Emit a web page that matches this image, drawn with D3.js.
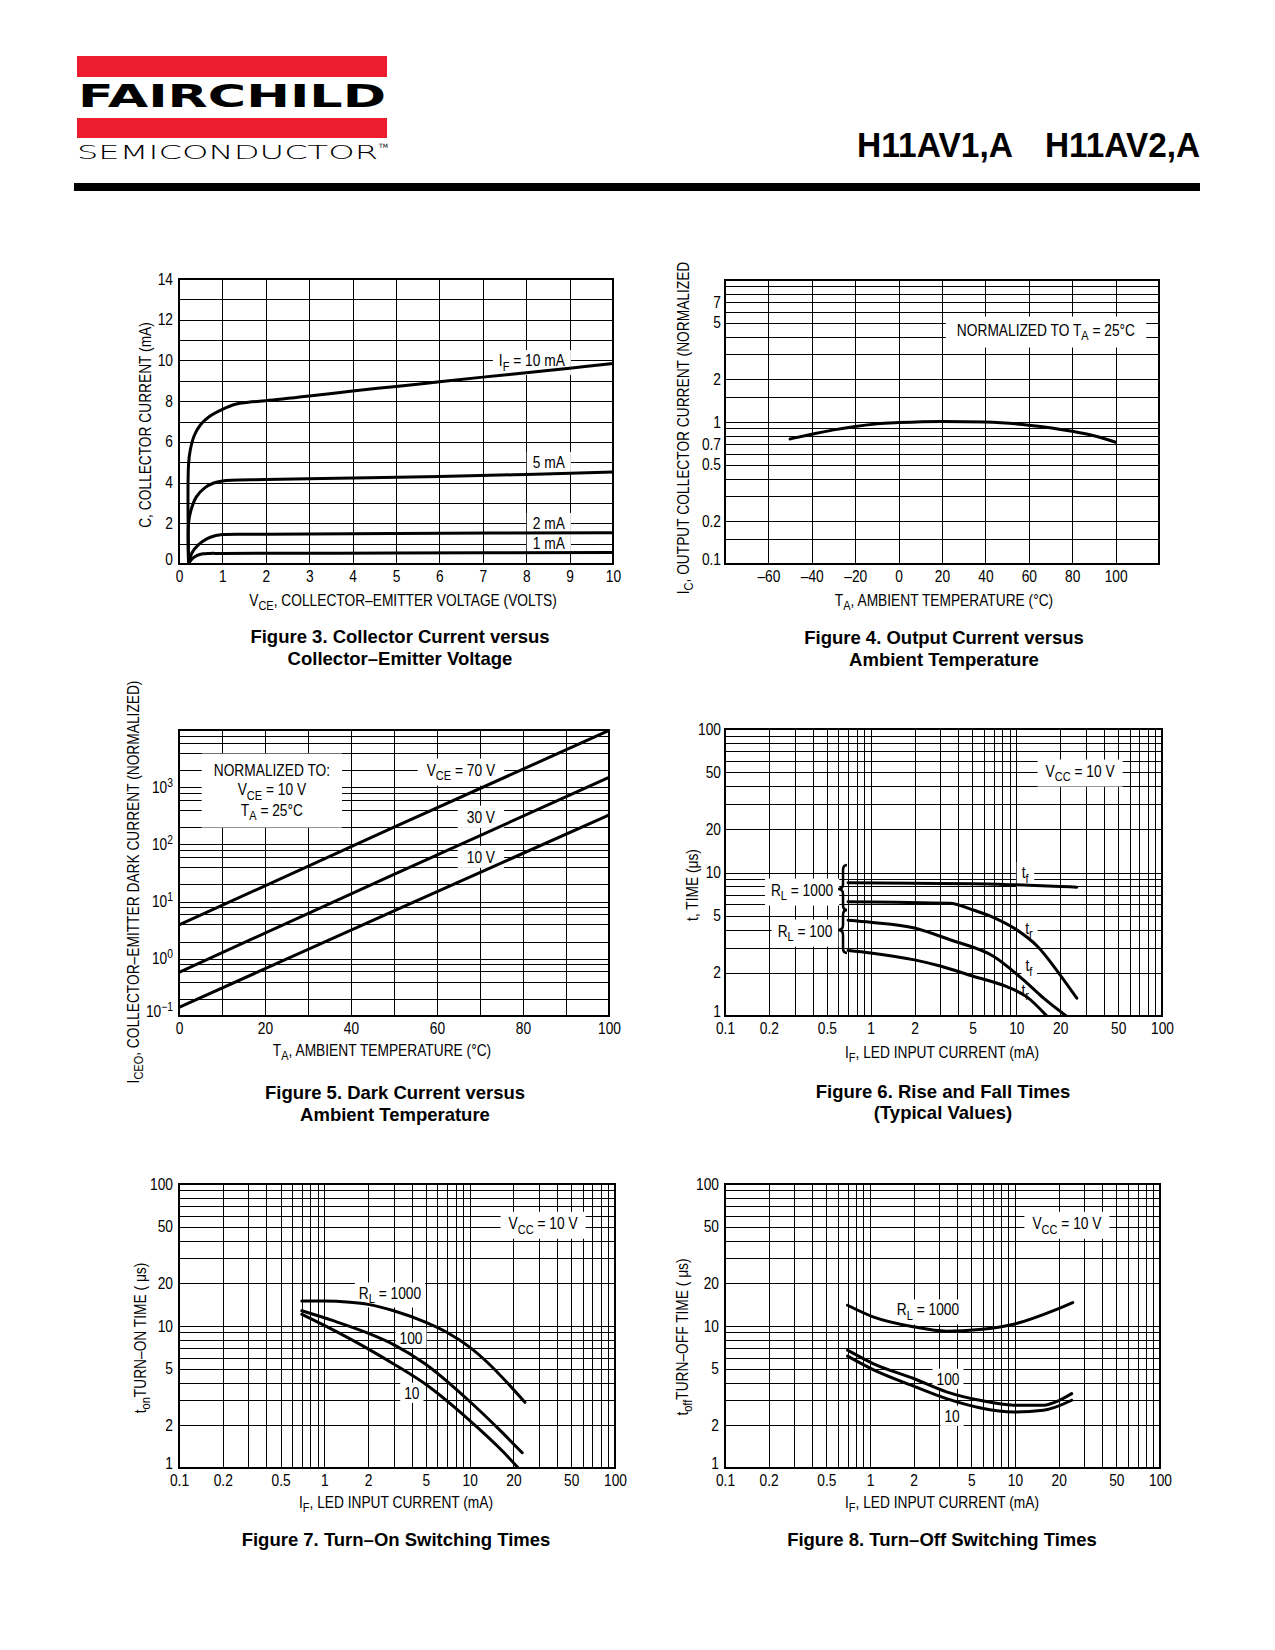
<!DOCTYPE html>
<html><head><meta charset="utf-8">
<script src="https://cdn.jsdelivr.net/npm/d3@7"></script>
<style>
body{margin:0;background:#fff}
svg{display:block}
text{font-family:'Liberation Sans',Arial,Helvetica,sans-serif;fill:#000;white-space:pre}
</style></head><body>
<svg id="page" width="1275" height="1650"></svg>
<script>
// ---------------- DATA ----------------
// Figure 3: Collector current vs VCE
const fig3XTicks = [0,1,2,3,4,5,6,7,8,9,10];
const fig3YTicks = [0,2,4,6,8,10,12,14];
const fig3YGrid = [0,1,2,3,4,5,6,7,8,9,10,11,12,13,14];
const fig3IF10 = [[0.22,0],[0.22,4.9],[0.26,5.6],[0.35,6.3],[0.5,6.85],[0.7,7.25],[1,7.6],[1.3,7.85],[1.6,7.95],[2,8.02],[3,8.25],[4,8.5],[5,8.72],[6,8.95],[7,9.18],[8,9.4],[9,9.62],[10,9.85]];
const fig3IF5 = [[0.22,0],[0.22,2.0],[0.27,2.6],[0.4,3.3],[0.6,3.75],[0.8,3.98],[1,4.08],[1.2,4.12],[2,4.15],[4,4.22],[6,4.3],[8,4.4],[10,4.52]];
const fig3IF2 = [[0.22,0],[0.3,0.55],[0.45,0.95],[0.65,1.25],[0.85,1.4],[1,1.45],[2,1.46],[5,1.5],[10,1.54]];
const fig3IF1 = [[0.22,0],[0.3,0.25],[0.42,0.42],[0.55,0.5],[0.7,0.52],[1,0.52],[5,0.54],[10,0.57]];
const fig3LabelY = [10,5,2,1];

// Figure 4: Output current vs ambient temperature
const fig4XTicks = [-60,-40,-20,0,20,40,60,80,100];
const fig4YTicks = [0.1,0.2,0.5,0.7,1,2,5,7];
const fig4YGrid = [0.1,0.15,0.2,0.3,0.4,0.5,0.6,0.7,0.8,0.9,1,1.5,2,3,4,5,6,7,8,9,10];
const fig4TA = [-50,-40,-30,-20,-10,0,20,40,60,80,90,100];
const fig4IC = [0.76,0.82,0.88,0.93,0.97,0.99,1.01,1.0,0.95,0.86,0.80,0.72];

// Figure 5: Dark current vs ambient temperature
const fig5XTicks = [0,20,40,60,80,100];
const fig5XGrid = [0,10,20,30,40,50,60,70,80,90,100];
const fig5YTicks = [0.1,1,10,100,1000];
const fig5YExp = ["\u22121","0","1","2","3"];
const fig5YGridSteps = [1,2,4,6,8];
const fig5TA = [0,50,100];
const fig5VCE70 = [3.9,200,9800];
const fig5VCE30 = [0.58,30,1480];
const fig5VCE10 = [0.142,6.9,327];

// Figure 6: Rise and fall times
const logXTicks = [0.1,0.2,0.5,1,2,5,10,20,50,100];
const logYTicks = [1,2,5,10,20,50,100];
const logGridSteps = [1,2,3,4,5,6,7,8,9];
const fig6TfHigh = [[0.7,8.5],[2,8.4],[5,8.35],[10,8.2],[20,8.0],[26,7.9]];
const fig6TrHigh = [[0.7,6.25],[1.5,6.2],[3.5,6.1],[5,5.5],[7,4.85],[10,4.0],[14,3.05],[19.5,2.0],[26,1.33]];
const fig6TfLow = [[0.7,4.65],[1,4.5],[2,4.1],[3.5,3.4],[7,2.6],[11.8,1.7],[15.4,1.33],[22,1.0]];
const fig6TrLow = [[0.7,2.86],[1,2.75],[2,2.46],[3,2.23],[5,1.9],[8.6,1.6],[11.8,1.36],[16.2,1.0]];
const fig6Braces = [[11.3,7.67,5.48],[5.48,3.97,2.75]];

// Figure 7: Turn-on switching times
const fig7RL1000 = [[0.7,15.0],[1,15.0],[1.5,14.7],[2,14.2],[3,12.8],[5,10.6],[7,9.0],[10,7.1],[13.1,5.6],[18.5,3.9],[24,2.9]];
const fig7RL100 = [[0.7,12.8],[1.15,10.9],[2,8.9],[3,7.4],[4.9,5.44],[9.8,3.0],[16.2,1.84],[23,1.28]];
const fig7RL10 = [[0.7,12.1],[1,10.1],[2,6.9],[3,5.4],[4.9,3.93],[9.8,2.2],[17,1.3],[21.6,1.0]];

// Figure 8: Turn-off switching times
const fig8RL1000 = [[0.7,14.0],[1.05,11.6],[2,9.87],[3.37,9.2],[5.7,9.45],[9.8,10.3],[19.4,13.1],[25,14.6]];
const fig8RL100 = [[0.7,6.76],[1.05,5.44],[2,4.27],[3.37,3.44],[5.7,3.0],[9.8,2.77],[15.7,2.77],[20.3,3.0],[24.6,3.34]];
const fig8RL10 = [[0.7,6.13],[1.05,4.93],[2,3.77],[3.37,3.08],[5.7,2.66],[9.8,2.48],[15.7,2.55],[24.6,3.0]];

// ---------------- HELPERS ----------------
const svg = d3.select("#page");
const SX = 0.86, FS = 16;
function logGrid(lo, hi, steps){ const out=[]; for(let d=lo; d<hi*0.999; d*=10){ steps.forEach(k=>out.push(+(d*k).toPrecision(3))); } out.push(hi); return out; }

function addText(parent, x, y, parts, o={}){
  const fs = o.size||FS, sx = o.bold?1:SX;
  const g = parent.append("g").attr("transform",`translate(${x},${y})${o.rotate?" rotate(-90)":""} scale(${sx},1)`);
  const t = g.append("text").attr("x",0).attr("y",fs*0.35).attr("font-size",fs)
    .attr("text-anchor",o.anchor||"middle");
  if(o.bold) t.attr("font-weight","bold");
  let shift=0;
  parts.forEach(p=>{
    let type='n', s=p;
    if(p[0]==='_'){type='sub'; s=p.slice(1);} else if(p[0]==='^'){type='sup'; s=p.slice(1);}
    const target = type==='sub'? fs*0.3 : type==='sup'? -fs*0.42 : 0;
    const ts = t.append("tspan").attr("dy", target-shift).text(s);
    if(type!=='n') ts.attr("font-size", fs*0.8);
    shift=target;
  });
  return t;
}
const lineCR = (x,y)=>d3.line().x(d=>x(d[0])).y(d=>y(d[1])).curve(d3.curveCatmullRom.alpha(0.5));
const lineMono = (x,y)=>d3.line().x(d=>x(d[0])).y(d=>y(d[1])).curve(d3.curveMonotoneX);

let clipId=0;
function chart(c){
  const g = svg.append("g");
  const [x0,x1]=c.x.range(), [y0,y1]=c.y.range();
  const grid = g.append("g").attr("shape-rendering","crispEdges");
  grid.append("g").attr("transform",`translate(0,${y0})`)
    .call(d3.axisBottom(c.x).tickValues(c.xGrid).tickSize(-(y0-y1)).tickFormat(""))
    .call(a=>{a.select(".domain").remove(); a.selectAll("line").attr("stroke","#000").attr("stroke-width",1);});
  grid.append("g").attr("transform",`translate(${x0},0)`)
    .call(d3.axisLeft(c.y).tickValues(c.yGrid).tickSize(-(x1-x0)).tickFormat(""))
    .call(a=>{a.select(".domain").remove(); a.selectAll("line").attr("stroke","#000").attr("stroke-width",1);});
  grid.append("rect").attr("x",x0).attr("y",y1).attr("width",x1-x0).attr("height",y0-y1).attr("fill","none").attr("stroke","#000").attr("stroke-width",1.2);
  grid.append("line").attr("x1",x0).attr("x2",x0).attr("y1",y1).attr("y2",y0+1).attr("stroke","#000").attr("stroke-width",2.5);
  grid.append("line").attr("x1",x0-1).attr("x2",x1).attr("y1",y0).attr("y2",y0).attr("stroke","#000").attr("stroke-width",2.5);
  // tick labels
  const xa = g.append("g").attr("transform",`translate(0,${y0})`)
    .call(d3.axisBottom(c.x).tickValues(c.xTicks).tickSize(0).tickPadding(7).tickFormat(d=>String(d).replace("-","\u2013")));
  xa.attr("font-family",null).attr("font-size",FS).select(".domain").remove();
  xa.selectAll("text").attr("transform",`scale(${SX},1)`);
  const pad = c.yPad||5;
  const ya = g.append("g").attr("transform",`translate(${x0},0)`)
    .call(d3.axisLeft(c.y).tickValues(c.yTicks).tickSize(0).tickPadding(pad).tickFormat(d=>String(d)));
  ya.attr("font-family",null).attr("font-size",FS).select(".domain").remove();
  ya.selectAll("text").attr("transform",`scale(${SX},1)`).attr("x",-pad/SX);
  ya.selectAll(".tick").filter(d=>d===c.yTicks[0]).select("text").attr("y",-5);
  const id = "clip"+(clipId++);
  g.append("clipPath").attr("id",id).append("rect").attr("x",x0).attr("y",y1-2).attr("width",x1-x0).attr("height",y0-y1+2);
  g.ann = g.append("g");
  g.curves = g.append("g").attr("clip-path",`url(#${id})`);
  g.txt = g.append("g");
  g.ya = ya;
  return g;
}
function curve(g, gen, data){
  g.curves.append("path").datum(data).attr("d", gen).attr("fill","none").attr("stroke","#000").attr("stroke-width",3).attr("stroke-linecap","round");
}
function boxFor(g, texts, pl, pr, pt, pb){
  const rs = texts.map(t=>t.node().getBoundingClientRect());
  const l=d3.min(rs,r=>r.left)-pl, rr=d3.max(rs,r=>r.right)+pr, t=d3.min(rs,r=>r.top)-pt, b=d3.max(rs,r=>r.bottom)+pb;
  g.ann.append("rect").attr("x",l).attr("y",t).attr("width",rr-l).attr("height",b-t).attr("fill","#fff");
}
function label(g, x, y, parts, px, py, o={}){
  const t = addText(g.txt, x, y, parts, o);
  boxFor(g,[t],px,px,py,py);
  return t;
}

// ---------------- HEADER ----------------
const red = "#ED1C2E";
svg.append("rect").attr("x",77).attr("y",56).attr("width",310).attr("height",21).attr("fill",red);
svg.append("rect").attr("x",77).attr("y",118).attr("width",310).attr("height",20).attr("fill",red);
svg.append("text").attr("x",78).attr("y",107).attr("font-size",32).attr("font-weight","bold")
  .style("font-family","'DejaVu Sans',sans-serif").attr("fill","#231F20")
  .attr("textLength",308).attr("lengthAdjust","spacingAndGlyphs").text("FAIRCHILD");
svg.append("text").attr("x",77).attr("y",159).attr("font-size",20).attr("font-weight",200)
  .style("font-family","'DejaVu Sans',sans-serif").attr("fill","#231F20")
  .attr("textLength",301).attr("lengthAdjust","spacingAndGlyphs").text("SEMICONDUCTOR");
svg.append("text").attr("x",379).attr("y",148).attr("font-size",6).style("font-family","'DejaVu Sans',sans-serif").text("TM");
svg.append("text").attr("x",857).attr("y",157).attr("font-size",35).attr("font-weight","bold")
  .attr("textLength",156).attr("lengthAdjust","spacingAndGlyphs").text("H11AV1,A");
svg.append("text").attr("x",1045).attr("y",157).attr("font-size",35).attr("font-weight","bold")
  .attr("textLength",155).attr("lengthAdjust","spacingAndGlyphs").text("H11AV2,A");
svg.append("rect").attr("x",74).attr("y",183).attr("width",1126).attr("height",8).attr("fill","#000");

const TFS = 18.5;
// ---------------- FIGURE 3 ----------------
{
  const x = d3.scaleLinear([0,10],[179,613]);
  const y = d3.scaleLinear([0,14],[564,279]);
  const g = chart({x,y,xGrid:fig3XTicks,yGrid:fig3YGrid,xTicks:fig3XTicks,yTicks:fig3YTicks,yPad:6});
  [fig3IF10,fig3IF5,fig3IF2,fig3IF1].forEach(d=>curve(g,lineCR(x,y),d));
  const labs=[["I","_F"," = 10 mA"],["5 mA"],["2 mA"],["1 mA"]];
  labs.forEach((p,i)=>label(g, x(8.89), y(fig3LabelY[i]), p, 6, 1, {anchor:"end"}));
  addText(svg, 403, 600, ["V","_CE",", COLLECTOR\u2013EMITTER VOLTAGE (VOLTS)"]);
  addText(svg, 145, 425, ["C, COLLECTOR CURRENT (mA)"], {rotate:true});
  addText(svg, 400, 637, ["Figure 3. Collector Current versus"], {bold:true,size:TFS});
  addText(svg, 400, 659, ["Collector\u2013Emitter Voltage"], {bold:true,size:TFS});
}
// ---------------- FIGURE 4 ----------------
{
  const x = d3.scaleLinear([-80,120],[725,1159]);
  const y = d3.scaleLog([0.1,10],[564,280]);
  const g = chart({x,y,xGrid:fig4XTicks,yGrid:fig4YGrid,xTicks:fig4XTicks,yTicks:fig4YTicks,yPad:4});
  curve(g,lineMono(x,y),fig4TA.map((t,i)=>[t,fig4IC[i]]));
  label(g, x(67.9), y(4.45), ["NORMALIZED TO T","_A"," = 25\u00B0C"], 11, 4);
  addText(svg, 944, 600, ["T","_A",", AMBIENT TEMPERATURE (\u00B0C)"]);
  addText(svg, 683, 428, ["I","_C",", OUTPUT COLLECTOR CURRENT (NORMALIZED"], {rotate:true});
  addText(svg, 944, 638, ["Figure 4. Output Current versus"], {bold:true,size:TFS});
  addText(svg, 944, 660, ["Ambient Temperature"], {bold:true,size:TFS});
}
// ---------------- FIGURE 5 ----------------
{
  const x = d3.scaleLinear([0,100],[179,609]);
  const y = d3.scaleLog([0.1,10000],[1016,730]);
  const g = chart({x,y,xGrid:fig5XGrid,yGrid:logGrid(0.1,10000,fig5YGridSteps),xTicks:fig5XTicks,yTicks:fig5YTicks,yPad:6});
  g.ya.selectAll(".tick text").each(function(d,i){
    const t=d3.select(this); t.text("");
    t.append("tspan").text("10");
    t.append("tspan").attr("dy",-6).attr("font-size",12).text(fig5YExp[i]);
  });
  [fig5VCE70,fig5VCE30,fig5VCE10].forEach(s=>curve(g,lineMono(x,y),fig5TA.map((t,i)=>[t,s[i]])));
  const t1 = addText(g.txt, x(21.6), y(2000), ["NORMALIZED TO:"]);
  const t2 = addText(g.txt, x(21.6), y(900), ["V","_CE"," = 10 V"]);
  const t3 = addText(g.txt, x(21.6), y(400), ["T","_A"," = 25\u00B0C"]);
  boxFor(g,[t1,t2,t3],12,12,7,4);
  label(g, x(73.5), y(2000), ["V","_CE"," = 70 V"], 9, 2, {anchor:"end"});
  label(g, x(73.5), y(300), ["30 V"], 9, 2, {anchor:"end"});
  label(g, x(73.5), y(60), ["10 V"], 9, 2, {anchor:"end"});
  addText(svg, 382, 1050, ["T","_A",", AMBIENT TEMPERATURE (\u00B0C)"]);
  addText(svg, 133, 882, ["I","_CEO",", COLLECTOR\u2013EMITTER DARK CURRENT (NORMALIZED)"], {rotate:true});
  addText(svg, 395, 1093, ["Figure 5. Dark Current versus"], {bold:true,size:TFS});
  addText(svg, 395, 1115, ["Ambient Temperature"], {bold:true,size:TFS});
}
// ---------------- FIGURE 6 ----------------
{
  const x = d3.scaleLog([0.1,100],[725,1162]);
  const y = d3.scaleLog([1,100],[1016,729]);
  const g = chart({x,y,xGrid:logGrid(0.1,100,logGridSteps),yGrid:logGrid(1,100,logGridSteps),xTicks:logXTicks,yTicks:logYTicks,yPad:4});
  [fig6TfHigh,fig6TrHigh,fig6TfLow,fig6TrLow].forEach(d=>curve(g,lineMono(x,y),d));
  label(g, x(27.4), y(51), ["V","_CC"," = 10 V"], 8, 2);
  label(g, x(11.5), y(10), ["t","_f"], 5, 1);
  label(g, x(12.2), y(4.1), ["t","_r"], 5, 1);
  label(g, x(12.2), y(2.25), ["t","_f"], 4, 0);
  label(g, x(11.5), y(1.52), ["t","_r"], 1, -2);
  label(g, x(0.338), y(7.55), ["R","_L"," = 1000"], 6, 2);
  label(g, x(0.354), y(3.91), ["R","_L"," = 100"], 6, 2);
  const sx = x(0.646), tx = x(0.597);
  fig6Braces.forEach(([a,m,b])=>{
    const yt=y(a), ym=y(m), yb=y(b);
    const p=`M${sx+4},${yt} Q${sx},${yt} ${sx},${yt+5} L${sx},${ym-5} Q${sx},${ym} ${tx},${ym} Q${sx},${ym} ${sx},${ym+5} L${sx},${yb-5} Q${sx},${yb} ${sx+4},${yb}`;
    g.txt.append("path").attr("d",p).attr("fill","none").attr("stroke","#000").attr("stroke-width",2.5);
  });
  addText(svg, 942, 1052, ["I","_F",", LED INPUT CURRENT (mA)"]);
  addText(svg, 692, 885, ["t, TIME (\u03BCs)"], {rotate:true});
  addText(svg, 943, 1092, ["Figure 6. Rise and Fall Times"], {bold:true,size:TFS});
  addText(svg, 943, 1113, ["(Typical Values)"], {bold:true,size:TFS});
}
// ---------------- FIGURE 7 ----------------
{
  const x = d3.scaleLog([0.1,100],[179,615]);
  const y = d3.scaleLog([1,100],[1468,1184]);
  const g = chart({x,y,xGrid:logGrid(0.1,100,logGridSteps),yGrid:logGrid(1,100,logGridSteps),xTicks:logXTicks,yTicks:logYTicks,yPad:6});
  [fig7RL1000,fig7RL100,fig7RL10].forEach(d=>curve(g,lineMono(x,y),d));
  label(g, x(32), y(53), ["V","_CC"," = 10 V"], 8, 2);
  label(g, x(2.83), y(17.1), ["R","_L"," = 1000"], 4, 1);
  label(g, x(3.95), y(8.2), ["100"], 4, 1);
  label(g, x(4.0), y(3.37), ["10"], 4, 1);
  addText(svg, 396, 1502, ["I","_F",", LED INPUT CURRENT (mA)"]);
  addText(svg, 140, 1338, ["t","_on","TURN\u2013ON TIME ( \u03BCs)"], {rotate:true});
  addText(svg, 396, 1540, ["Figure 7. Turn\u2013On Switching Times"], {bold:true,size:TFS});
}
// ---------------- FIGURE 8 ----------------
{
  const x = d3.scaleLog([0.1,100],[725,1160]);
  const y = d3.scaleLog([1,100],[1468,1184]);
  const g = chart({x,y,xGrid:logGrid(0.1,100,logGridSteps),yGrid:logGrid(1,100,logGridSteps),xTicks:logXTicks,yTicks:logYTicks,yPad:6});
  [fig8RL1000,fig8RL100,fig8RL10].forEach(d=>curve(g,lineMono(x,y),d));
  label(g, x(22.8), y(53), ["V","_CC"," = 10 V"], 8, 2);
  label(g, x(2.51), y(13.0), ["R","_L"," = 1000"], 4, 1);
  label(g, x(3.45), y(4.23), ["100"], 4, 1);
  label(g, x(3.68), y(2.32), ["10"], 4, 1);
  addText(svg, 942, 1502, ["I","_F",", LED INPUT CURRENT (mA)"]);
  addText(svg, 682, 1337, ["t","_off","TURN\u2013OFF TIME ( \u03BCs)"], {rotate:true});
  addText(svg, 942, 1540, ["Figure 8. Turn\u2013Off Switching Times"], {bold:true,size:TFS});
}
</script>
</body></html>
